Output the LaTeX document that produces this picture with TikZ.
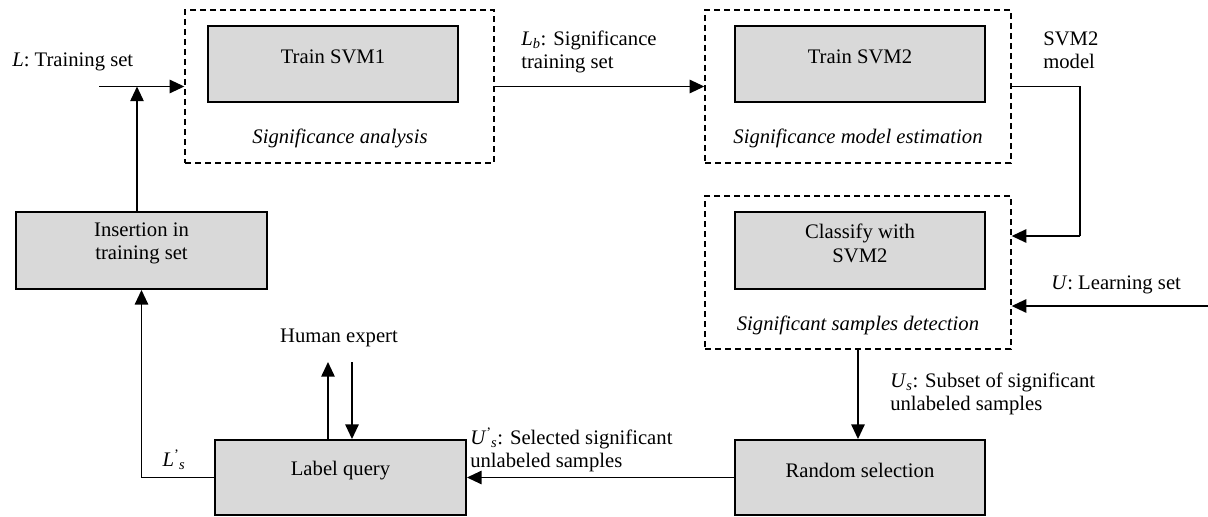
\documentclass[tikz,border=0pt]{standalone}
\usepackage{fontspec}
\setmainfont{Liberation Serif}
\usetikzlibrary{arrows.meta,fit}
\definecolor{boxgray}{HTML}{D9D9D9}
\newcommand{\primesub}[2]{\textit{#1}\textsuperscript{'}\kern-0.5pt\textsubscript{\textit{#2}}}
\begin{document}
\begin{tikzpicture}[x=0.75pt,y=-0.75pt,
  every node/.style={font=\fontsize{15.5}{17.5}\selectfont},
  box/.style={draw,line width=1.4pt,fill=boxgray,inner sep=0pt,align=center},
  grp/.style={draw,line width=1pt,dash pattern=on 4.5pt off 3pt,inner sep=0pt},
  lbl/.style={inner sep=0pt,align=left},
  grpcaption/.style={inner sep=0pt,font=\fontsize{15.5}{17.5}\selectfont\itshape},
  arr/.style={line width=1.3pt,-{Triangle[length=11pt,width=10pt]}},
  ln/.style={line width=1.3pt}]
\useasboundingbox (0,0) rectangle (1208,517);

% dashed groups
\node[grp, fit={(185,10) (494,163)}] (g1) {};
\node[grp, fit={(705,10) (1011,163)}] (g2) {};
\node[grp, fit={(705,196) (1011,349)}] (g3) {};

% boxes
\node[box, fit={(208,26) (458,102)}] (t1) {Train SVM1};
\node[box, fit={(735,26) (985,102)}] (t2) {Train SVM2};
\node[box, fit={(735,212) (985,289)}] (cl) {Classify with\\SVM2};
\node[box, fit={(16,212) (267,289)}] (ins) {Insertion in\\training set};
\node[box, fit={(215,440) (466,515)}] (lq) {Label query};
\node[box, fit={(735,440) (985,515)}] (rnd) {Random selection};

% captions
\node[grpcaption] (c1) at (340,138) {Significance analysis};
\node[grpcaption] (c2) at (858,138) {Significance model estimation};
\node[grpcaption] (c3) at (858,325) {Significant samples detection};

% labels
\node[lbl, anchor=west] (lL) at (12,62) {\textit{L}: Training set};
\node[lbl, anchor=west] (lLb) at (521,52) {\textit{L}\textsubscript{\textit{b}}: Significance\\training set};
\node[lbl, anchor=west] (lsvm) at (1043,50) {SVM2\\model};
\node[lbl, anchor=west] (lU) at (1051,285) {\textit{U}: Learning set};
\node[lbl, anchor=west] (lUs) at (890,394) {\textit{U}\textsubscript{\textit{s}}: Subset of significant\\unlabeled samples};
\node[lbl, anchor=west] (lUps) at (470,450) {\primesub{U}{s}: Selected significant\\unlabeled samples};
\node[lbl] (hum) at (339,338) {Human expert};
\node[lbl] (lLps) at (174,460) {\primesub{L}{s}};

% coordinates
\coordinate (Lin) at (99,86.5);
\coordinate (jn) at (137,86.5);
\coordinate (m1) at (1080,86.5);
\coordinate (m2) at (1080,236);
\coordinate (Uin) at (1208,306);
\coordinate (lsturn) at (141.5,477.5);
\coordinate (hu) at (328,362);
\coordinate (hd) at (352,362);

% connectors
\draw[arr] (Lin) -- (g1.west);
\draw[arr] (ins.north -| jn) -- (jn);
\draw[arr] (g1.east) -- (g2.west);
\draw[ln] (g2.east) -- (m1) -- (m2);
\draw[arr] (m2) -- (g3.east |- m2);
\draw[arr] (Uin) -- (g3.east |- Uin);
\draw[arr] (g3.south) -- (g3.south |- rnd.north);
\draw[arr] (rnd.west) -- (lq.east);
\draw[ln] (lq.west) -- (lsturn);
\draw[arr] (lsturn) -- (ins.south);
\draw[arr] (lq.north -| hu) -- (hu);
\draw[arr] (hd) -- (lq.north -| hd);
\end{tikzpicture}
\end{document}
